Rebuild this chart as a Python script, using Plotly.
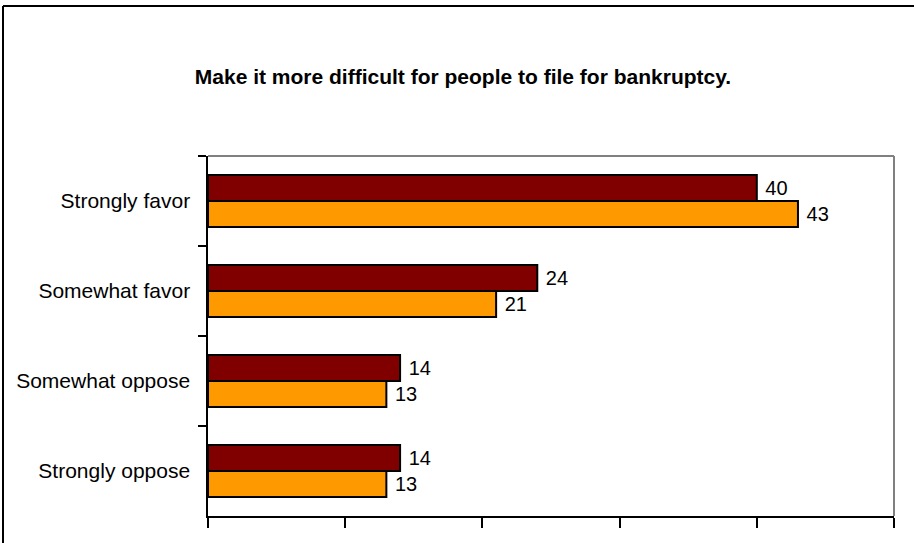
import plotly.graph_objects as go

categories = ["Strongly favor", "Somewhat favor", "Somewhat oppose", "Strongly oppose"]
series_a = [40, 24, 14, 14]   # dark red (upper bar)
series_b = [43, 21, 13, 13]   # orange (lower bar)
title_text = "Make it more difficult for people to file for bankruptcy."

FONT = "Arial, 'Liberation Sans', sans-serif"

fig = go.Figure()
fig.add_trace(go.Bar(
    y=categories, x=series_a, orientation="h", name="Series A",
    marker=dict(color="#800000", line=dict(color="black", width=2)),
    text=[" " + str(v) for v in series_a], textposition="outside",
    textfont=dict(family=FONT, size=20, color="black"), cliponaxis=False,
))
fig.add_trace(go.Bar(
    y=categories, x=series_b, orientation="h", name="Series B",
    marker=dict(color="#FF9900", line=dict(color="black", width=2)),
    text=[" " + str(v) for v in series_b], textposition="outside",
    textfont=dict(family=FONT, size=20, color="black"), cliponaxis=False,
))

L, R, T, B = 208, 20, 156, 27
W, H = 914, 543
pw, ph = W - L - R, H - T - B

fig.update_layout(
    width=W, height=H,
    margin=dict(l=L, r=R, t=T, b=B),
    paper_bgcolor="white", plot_bgcolor="white",
    barmode="group", bargap=0.42, bargroupgap=0,
    showlegend=False,
    font=dict(family=FONT, color="black"),
    title=dict(text="<b>" + title_text + "</b>", x=463 / W, xanchor="center",
               y=1 - 77 / H, yanchor="middle",
               font=dict(family=FONT, size=21, color="black")),
    xaxis=dict(range=[0, 50], dtick=10, tick0=0, showgrid=False, zeroline=False,
               showticklabels=False, ticks="outside", ticklen=10, tickwidth=2,
               tickcolor="black", showline=True, linecolor="black", linewidth=2),
    yaxis=dict(autorange="reversed", showgrid=False, zeroline=False,
               ticks="outside", tickson="boundaries", ticklen=8, tickwidth=2,
               tickcolor="black", showline=True, linecolor="black", linewidth=2,
               tickfont=dict(family=FONT, size=21, color="black"), ticksuffix="  "),
    shapes=[
        # gray top and right plot edges
        dict(type="line", xref="paper", yref="paper", x0=0, x1=1, y0=1, y1=1,
             line=dict(color="#808080", width=2)),
        dict(type="line", xref="paper", yref="paper", x0=1, x1=1, y0=0, y1=1,
             line=dict(color="#808080", width=2)),
        # outer chart border (left and top visible)
        dict(type="line", xref="paper", yref="paper",
             x0=(3 - L) / pw, x1=(W + 10 - L) / pw,
             y0=1 + (T - 6) / ph, y1=1 + (T - 6) / ph,
             line=dict(color="black", width=2)),
        dict(type="line", xref="paper", yref="paper",
             x0=(3 - L) / pw, x1=(3 - L) / pw,
             y0=-(B + 10) / ph, y1=1 + (T - 6) / ph,
             line=dict(color="black", width=2)),
    ],
)

fig.write_html("out.html")
